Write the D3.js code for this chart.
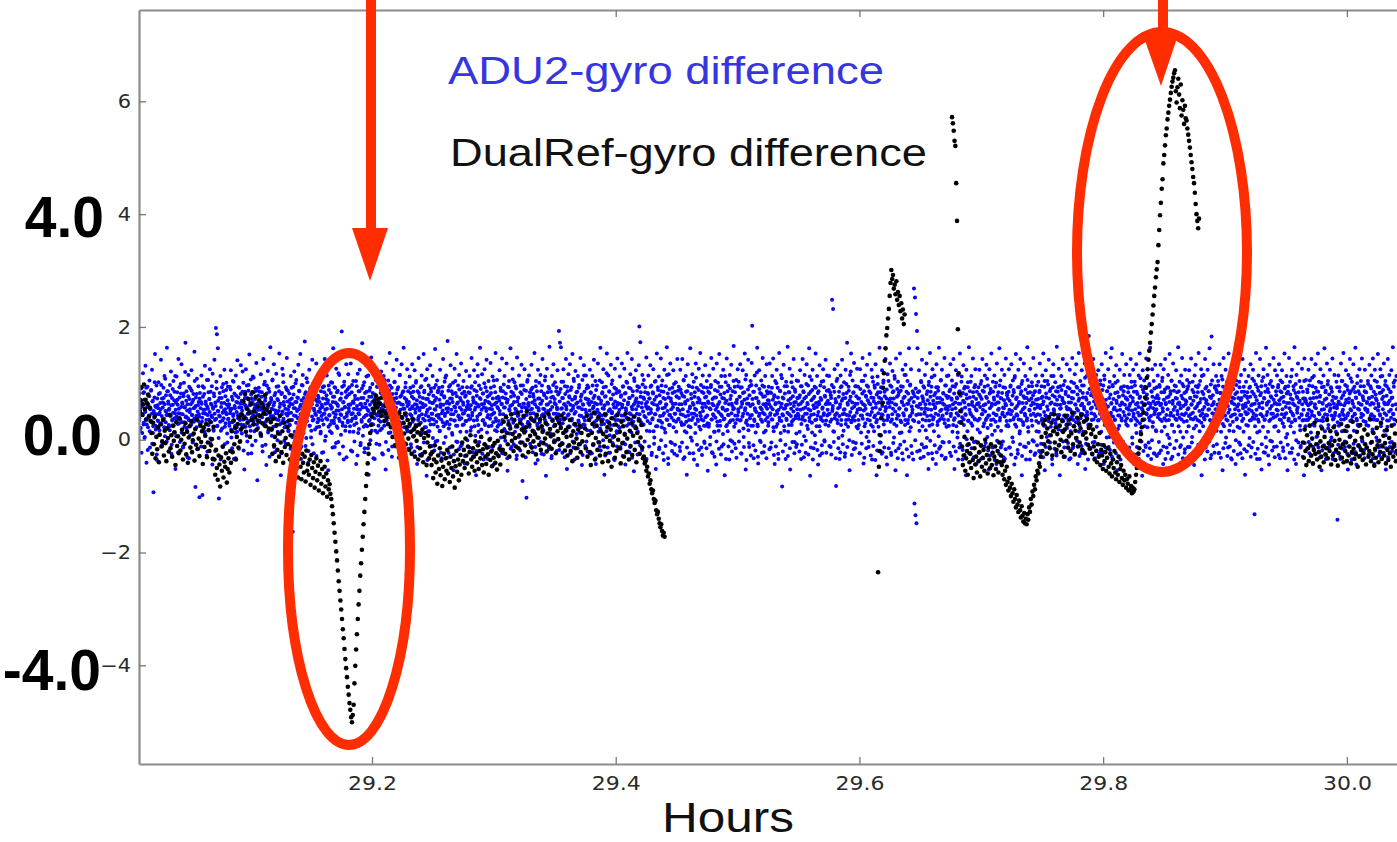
<!DOCTYPE html>
<html><head><meta charset="utf-8">
<script src="https://cdn.jsdelivr.net/npm/d3@7"></script>
<style>body{margin:0;background:#fff}svg{display:block}</style>
</head><body>
<svg id="c" width="1397" height="842"></svg>
<script>
// ---------- data ----------
const xTicks = [29.2, 29.4, 29.6, 29.8, 30.0];
const yTicks = [-4, -2, 0, 2, 4, 6];
const xDomain = [29.0088, 30.06];
const yDomain = [-5.75, 7.62];
const seriesNames = ["ADU2-gyro difference", "DualRef-gyro difference"];
const bigLabels = ["4.0", "0.0", "-4.0"];
const axisTitle = "Hours";

// ADU2-gyro difference: two interleaved evenly sampled runs from blueStart to blueEnd (values in 1/100)
const blueStart = 29.0088, blueEnd = 30.041;
const blueHundredthsA = [
34,72,15,57,91,-23,46,63,118,27,84,3,52,131,36,-41,65,94,22,78,43,105,-14,56,87,31,124,68,12,-93,47,75,152,25,58,96,-36,61,33,102,45,17,83,54,142,28,73,-8,66,92,37,113,6,51,79,44,163,21,86,64,
53,24,97,42,121,-25,74,36,62,104,13,85,47,-52,66,112,35,71,28,143,55,93,-4,46,82,134,31,64,-12,77,101,23,58,172,41,86,16,63,38,115,-33,72,54,91,26,123,44,67,9,81,32,156,57,-84,75,22,108,43,61,95,
45,-102,83,24,67,114,32,-98,76,53,92,14,131,46,63,27,106,-21,55,84,36,72,125,2,64,43,95,-44,57,18,82,142,35,66,198,103,187,25,162,51,-104,74,41,113,16,65,93,34,-13,86,52,124,23,77,48,101,62,-5,94,37,
63,25,94,52,123,4,76,31,104,45,-34,82,56,13,114,67,22,141,43,75,-16,92,35,64,132,57,11,85,42,101,26,-53,74,61,125,37,96,-3,54,87,46,151,24,66,107,-24,73,48,112,33,84,15,62,91,55,136,27,-72,44,78,
92,34,65,12,116,53,84,-11,46,143,62,25,103,74,32,-45,96,57,122,16,63,85,38,164,42,71,7,105,54,23,134,66,-22,83,47,117,36,72,14,95,51,153,27,64,-63,81,45,126,33,102,67,-2,76,55,93,24,145,43,87,15,
47,82,26,64,113,35,73,5,-163,94,56,121,14,67,42,106,-32,75,38,133,54,86,23,152,62,-12,97,45,115,27,74,53,174,36,84,3,65,102,43,-41,76,124,25,57,93,16,63,142,34,85,-24,52,104,46,71,135,22,68,95,37,
74,23,105,56,14,123,62,35,93,-22,46,84,143,53,6,72,114,36,65,-54,96,43,132,27,83,55,12,101,67,162,34,76,-13,92,45,126,24,63,87,-4,52,115,33,154,73,44,192,94,25,66,-35,103,57,16,85,134,42,78,31,116,
56,93,14,62,135,33,84,-21,47,104,65,26,153,72,38,-43,95,54,117,12,86,45,124,63,-6,74,32,171,57,96,23,102,-15,64,43,132,85,24,53,114,-62,76,35,92,44,146,16,67,83,27,125,52,-34,73,106,45,64,13,94,58,
35,102,64,17,83,121,46,-24,75,53,113,25,94,62,-53,136,34,72,43,105,12,87,154,56,23,66,92,-12,45,124,73,36,103,54,4,82,142,65,26,93,-32,47,115,76,13,63,134,38,84,55,163,22,74,-45,101,42,67,125,15,86,
63,24,112,45,83,-14,56,134,32,95,73,7,123,54,26,104,62,-43,86,35,145,42,76,13,93,57,114,-25,64,37,152,84,22,106,44,72,-64,125,53,15,96,34,67,132,27,85,46,-11,113,65,36,92,54,161,-3,74,43,105,23,87,
44,92,15,124,63,36,-33,85,52,143,24,77,103,46,5,114,65,32,175,56,-23,94,27,73,132,45,86,12,67,101,-54,34,126,57,83,25,152,64,-4,96,43,115,36,74,-12,135,53,82,26,66,104,47,-42,76,33,122,14,93,55,62,
84,36,113,54,16,92,145,43,-22,75,66,123,24,102,57,-63,86,35,134,62,14,96,45,163,72,5,53,116,34,82,-35,64,125,26,93,56,142,13,76,44,104,-13,65,37,136,83,25,54,112,46,-44,95,63,17,154,33,74,106,23,56,
26,74,123,45,92,4,63,144,35,86,-24,57,113,16,73,42,135,66,-55,94,33,104,52,25,162,76,-13,45,126,83,34,67,102,14,95,53,-34,146,23,75,44,114,62,-5,84,36,133,57,-73,96,22,64,125,43,15,87,-103,54,106,32,
65,114,23,84,46,-12,133,55,92,14,76,35,154,63,-42,104,43,86,25,124,56,3,73,37,115,64,-25,96,143,45,16,82,54,105,32,-64,74,126,27,63,94,44,165,12,53,85,-33,113,36,76,134,24,65,102,-2,46,93,57,123,34,
45,193,84,172,26,164,103,56,-23,74,125,36,63,95,14,143,54,-52,86,43,116,24,75,134,62,6,93,37,152,55,-14,104,46,73,122,25,84,-32,66,113,34,92,57,13,145,76,42,-45,106,63,27,132,85,34,53,114,-3,72,96,44,
93,35,62,124,16,83,45,-24,113,56,74,142,23,65,104,-43,34,96,53,135,14,73,46,-12,163,64,27,102,84,36,125,55,-62,76,43,94,15,153,66,32,114,-23,85,54,26,133,72,47,105,4,63,-34,92,126,35,57,83,12,144,65,
24,85,53,112,-13,76,34,135,62,94,-5,43,126,82,-44,56,103,25,154,63,36,92,-22,74,116,45,13,143,54,86,32,-56,104,65,24,123,73,46,95,14,66,132,201,35,173,84,-12,57,115,26,75,106,42,-35,93,64,146,16,55,83,
114,46,73,15,132,54,96,-23,36,84,125,63,4,103,45,-52,76,153,24,93,56,112,-14,65,33,144,86,22,105,43,74,-36,124,57,13,95,62,164,35,82,-43,116,44,26,135,73,54,-6,92,64,123,34,-25,85,46,102,14,76,143,53,
36,94,63,-13,124,45,83,26,143,54,-34,105,76,15,64,113,32,-62,86,134,43,24,95,56,162,4,73,35,116,65,-24,103,46,84,12,135,53,92,-45,36,74,126,23,66,154,42,-14,85,57,114,34,93,-3,64,132,25,76,104,43,-55,
85,23,114,56,5,93,145,36,64,-24,126,43,75,14,104,53,-44,135,32,86,63,16,152,94,25,45,113,-12,74,55,124,36,83,-63,65,102,24,144,53,15,96,44,-35,115,72,34,133,64,-3,86,54,166,23,94,43,-15,106,65,36,125,
54,103,15,76,134,35,-24,93,64,123,46,5,84,153,56,-53,115,34,73,26,142,64,-13,95,43,104,25,136,202,63,85,-33,36,114,52,13,96,74,163,24,-42,65,123,46,83,-4,105,54,32,145,76,-22,94,45,113,16,64,134,55,82,
25,94,63,135,44,-14,83,36,113,54,144,15,76,-43,104,65,23,124,46,92,-25,53,154,34,86,12,115,64,-83,75,43,133,24,95,56,-34,103,35,62,165,14,84,45,126,-53,73,55,26,114,93,35,143,66,-4,85,42,-13,105,54,74,
104,43,75,14,123,64,-34,95,36,143,55,84,6,115,46,-23,76,134,25,63,96,54,162,33,-64,85,44,106,13,124,73,-15,56,94,35,153,65,24,113,43,-44,86,63,132,15,74,36,103,-24,57,125,44,93,-3,76,142,34,65,114,53,
64,25,113,46,84,-13,74,36,248,55,232,93,14,125,44,66,-82,104,35,133,56,3,85,-34,63,114,26,95,142,45,73,16,102,54,-24,124,35,83,172,65,23,94,43,-54,115,76,153,34,56,105,-4,84,136,42,-15,64,95,23,126,53,
94,35,73,-24,125,54,13,104,43,145,63,-42,86,24,114,55,76,5,133,36,94,-13,65,152,44,83,26,124,-35,56,103,74,15,96,43,134,64,-63,35,112,84,23,75,163,54,-5,93,45,123,-22,66,105,34,85,14,143,56,73,-44,116,
43,104,65,14,135,73,-23,94,36,122,55,86,4,113,63,-54,144,25,76,44,103,-15,84,56,153,34,95,13,66,124,-35,74,43,115,26,133,54,85,-63,104,35,64,162,15,96,43,125,74,-24,53,35,82,268,-113,252,-134,223,-148,193,162,
84,45,123,16,64,-33,104,55,142,24,73,95,-14,46,115,63,34,135,3,86,54,-52,103,25,154,76,43,94,-24,125,36,63,15,114,56,83,-43,134,65,26,93,44,163,35,74,-12,106,53,124,-4,64,82,36,145,-34,55,96,23,113,74,
53,114,25,86,-23,134,46,73,105,14,63,143,35,-52,94,56,123,24,75,4,115,43,84,-14,153,64,32,103,54,-35,83,132,26,66,94,45,-63,124,73,15,102,34,164,53,86,-24,45,113,62,25,144,76,-4,93,36,125,54,-43,85,64,
34,93,65,124,13,76,-34,104,45,143,53,24,85,-12,114,63,35,133,74,5,96,43,-53,125,56,84,26,153,64,-23,103,36,75,114,16,94,44,-43,135,66,23,84,55,162,34,105,-14,73,124,45,-3,93,56,115,-34,64,144,25,83,46,
73,24,125,53,-14,94,45,134,63,4,105,36,84,-44,113,56,152,23,75,43,-25,124,64,93,15,143,35,86,-63,104,54,26,135,74,46,113,-13,65,34,164,83,14,95,53,-35,126,44,73,102,25,66,145,-3,84,55,-24,114,33,96,62,
45,103,14,84,135,56,-23,74,34,114,63,153,25,94,-54,43,123,75,5,104,53,36,142,-13,86,64,23,113,45,-44,93,134,54,15,76,102,35,-24,165,62,85,24,126,44,-63,95,56,113,16,74,143,33,65,-14,104,43,85,26,134,54,
93,34,66,-35,124,53,15,103,74,145,43,-13,85,24,116,63,3,134,55,92,-43,36,154,73,25,104,46,-24,123,64,83,14,96,54,135,-52,75,34,113,44,163,26,184,65,-14,102,55,126,35,84,-5,143,76,45,-33,94,62,115,23,56,
64,123,35,84,-24,105,53,14,134,73,45,96,-43,114,26,63,154,55,4,86,33,125,-13,74,103,45,146,64,162,23,95,-35,54,113,36,83,15,132,65,-54,104,43,76,25,124,53,-15,93,34,152,64,-4,86,115,43,-23,75,134,56,94,
25,84,53,-14,115,64,143,35,93,4,74,124,46,-43,103,54,26,134,85,33,65,-24,114,43,153,76,14,95,56,-64,123,36,84,105,24,63,-13,144,45,73,113,54,-5,96,34,163,64,-34,85,125,23,56,104,45,-25,133,74,15,93,65,
114,45,73,-24,94,36,133,64,15,104,56,-43,125,84,23,143,65,34,-14,93,54,115,76,3,152,43,86,-34,105,26,64,135,53,14,96,-53,74,123,35,84,45,164,24,66,103,-13,56,114,36,145,73,4,95,44,-23,124,63,85,14,106,
54,95,24,123,-13,74,45,144,63,5,103,36,84,-45,114,56,133,25,76,-24,93,64,154,33,15,104,43,125,-63,85,53,24,115,73,36,143,-14,65,94,43,124,-4,86,54,162,35,-33,74,183,105,24,63,134,46,-23,95,54,113,16,84,
35,104,63,-23,134,45,83,14,113,56,-54,94,145,24,75,43,124,4,66,103,34,-14,153,85,53,26,96,-33,123,65,44,114,15,73,135,54,-43,105,36,84,23,164,63,-5,93,44,-24,115,74,33,143,56,14,85,124,-62,64,103,45,76,
74,25,113,54,3,94,134,35,-14,85,63,124,46,104,-132,24,76,154,53,-34,93,36,114,64,15,143,45,83,-53,104,56,23,125,74,35,-23,96,163,44,65,115,14,84,-44,133,55,36,104,75,-3,94,46,145,-13,64,123,24,86,53,114,
44,93,15,134,63,-33,105,35,84,123,54,-14,76,23,153,45,94,4,113,65,-54,85,34,145,56,103,24,73,-23,124,46,64,95,13,164,36,83,-43,115,53,74,135,-5,66,104,25,-14,93,45,126,34,85,53,-63,144,73,24,106,65,43,
84,35,124,53,-24,105,64,13,143,44,95,-43,74,113,25,63,134,56,5,86,34,153,-14,103,45,76,125,24,-54,93,65,33,114,54,162,15,84,-34,73,135,44,104,26,63,-13,124,55,93,4,85,144,36,-24,64,115,43,74,14,103,56,
-142,63,114,25,93,44,-34,135,74,15,104,53,154,36,84,-13,65,123,24,95,43,-53,115,73,5,143,54,86,35,103,-24,64,134,16,94,45,163,75,-44,34,113,55,86,24,125,-14,63,104,46,144,-3,74,33,95,-33,124,53,84,26,65,
53,104,25,74,133,-24,95,43,114,65,14,144,36,85,-43,124,56,73,4,103,35,152,64,-14,93,45,125,24,84,-33,113,54,76,135,16,63,104,-53,44,95,23,143,66,34,115,-13,84,53,123,-4,75,164,45,94,36,105,-23,63,113,54
];
const blueHundredthsB = [
38,52,47,21,66,59,12,44,83,30,71,5,49,36,92,27,58,-18,63,41,77,15,54,33,88,46,-7,69,24,51,39,102,60,18,45,-26,73,34,56,81,9,48,65,29,97,42,-11,57,37,74,22,63,108,31,50,-3,86,44,68,26,
55,17,79,43,61,-9,34,90,48,25,70,38,113,53,6,41,84,62,-22,47,29,75,36,99,58,13,66,45,-14,82,31,57,120,40,69,21,52,-31,77,35,94,49,8,63,28,87,44,-5,71,56,37,104,19,60,42,81,-17,50,33,67,
41,73,28,56,-12,64,39,95,47,22,81,53,10,68,35,-28,59,44,106,26,72,49,-6,85,31,62,40,117,55,16,77,46,-20,60,37,91,24,51,69,3,43,83,32,-35,58,74,20,48,99,38,65,-8,54,29,88,45,11,70,36,57,
62,30,47,89,18,55,-15,71,42,103,34,60,25,-33,78,49,14,66,38,93,57,-4,45,81,27,69,52,121,36,-19,63,41,85,23,58,7,74,46,-25,97,33,61,50,16,80,39,-10,67,44,110,28,56,72,-2,48,87,35,64,21,53,
44,85,31,58,6,76,40,-21,63,51,98,27,69,-9,45,82,36,57,13,91,48,-30,66,33,74,55,19,107,42,61,-13,79,38,52,24,94,47,-1,70,35,86,58,10,64,29,-24,83,50,115,37,61,22,75,-7,46,89,32,68,53,17,
59,26,71,-16,48,92,35,63,8,80,43,-27,56,100,30,67,51,-5,74,39,87,22,59,45,-34,70,28,96,54,12,65,37,81,-11,49,109,33,62,46,-20,77,25,90,57,4,68,41,-8,84,36,55,72,18,98,44,-29,61,31,78,50,
35,67,49,11,86,42,-23,58,73,27,95,46,-2,64,38,79,55,-37,70,23,88,44,15,61,102,33,57,-14,76,48,29,93,40,66,-6,52,84,21,60,118,37,-25,71,45,9,82,54,30,-12,67,96,39,58,24,75,-31,47,89,34,62,
50,81,24,63,-19,45,97,37,68,14,55,-3,78,41,104,29,60,-28,72,47,19,86,53,-10,64,35,91,58,7,74,40,-22,83,26,57,112,44,69,-15,51,33,87,62,-1,46,76,28,99,55,-33,67,38,80,16,59,-7,94,43,71,25,
46,-9,73,32,88,55,20,61,-26,77,42,106,34,65,-4,52,84,27,58,-18,70,45,96,13,63,38,-30,81,49,25,68,102,36,-12,57,74,21,89,44,-1,66,31,115,53,8,79,40,-24,62,86,29,55,-6,93,47,71,18,60,35,-16,
67,28,54,92,-8,43,76,59,17,85,36,-21,63,48,101,24,70,-13,57,39,83,52,-27,66,30,95,45,12,74,58,-5,87,34,61,22,108,49,-36,72,41,80,15,56,-11,91,37,65,46,3,78,27,-19,69,53,97,32,60,-2,84,44,
39,71,16,58,-23,80,47,94,31,62,-6,75,42,110,28,55,-32,68,49,87,20,64,-14,97,36,53,73,9,81,45,-26,59,34,104,50,-3,77,25,66,41,-17,89,57,14,70,38,-9,93,46,62,27,85,-29,52,79,33,58,-1,68,43,
56,-14,83,37,61,22,95,48,-30,70,34,88,53,7,65,-20,78,41,113,26,59,-4,74,46,90,18,63,-25,82,35,57,100,29,69,-10,51,86,40,-34,67,24,79,55,2,92,44,61,-18,73,31,105,48,-7,84,38,66,15,58,-27,76,
33,69,51,-11,87,28,64,-24,75,45,98,19,57,-2,82,40,66,-33,71,26,93,54,11,60,-16,85,37,62,107,30,-8,78,47,55,23,91,-28,68,42,74,5,61,36,-19,96,50,81,27,-5,64,39,88,16,57,-31,72,44,103,29,63,
60,24,77,-7,53,89,35,66,-22,81,47,14,70,-13,95,39,58,28,-36,73,52,101,31,64,-4,86,43,69,18,55,-26,79,36,112,48,-9,62,27,84,51,-17,91,40,67,8,75,-29,58,33,97,46,-1,72,25,63,86,-20,54,41,80,
42,-18,68,36,90,55,-6,74,29,103,47,63,-31,81,38,59,16,94,-12,66,45,77,23,-24,88,52,34,71,-3,60,108,27,-35,76,49,64,10,85,-15,57,31,97,43,-8,69,22,80,54,-27,62,39,114,26,-11,73,48,91,17,-21,65,
71,35,52,-25,84,40,67,13,96,-10,59,31,78,46,-33,88,24,63,50,-4,75,37,105,20,-19,69,43,82,56,-1,93,28,61,-28,77,45,118,33,-14,64,51,86,8,-23,72,38,99,49,-6,80,26,57,-36,68,42,90,15,-12,62,35,
48,86,21,64,-16,79,43,57,-29,95,34,70,11,-8,83,52,39,101,-21,66,28,74,47,-13,91,36,58,-32,78,25,62,109,41,-5,69,54,20,87,-26,60,37,93,45,-10,76,31,65,-18,98,50,27,72,-3,84,40,59,-34,67,33,81,
57,-12,73,29,94,48,-27,65,38,82,15,-7,71,45,104,24,-30,61,53,88,34,-17,79,42,67,-1,96,30,56,-24,85,47,19,72,-11,63,36,115,51,-33,75,26,90,44,-4,68,39,-20,83,58,22,99,46,-9,64,32,77,-28,55,87,
37,74,52,-20,89,31,63,-5,78,44,106,27,-31,67,41,85,13,-14,70,50,96,35,-24,59,22,81,46,-2,93,39,62,-35,76,55,28,110,43,-9,66,33,88,-18,71,48,18,97,36,-27,64,51,83,25,-6,75,40,58,-15,92,29,68,
65,28,83,-9,54,97,36,-22,72,45,61,14,-30,88,39,75,-3,58,25,101,49,-16,67,33,80,-26,94,42,57,10,-8,73,37,113,52,-34,69,26,86,44,-12,63,31,91,-1,78,47,-21,60,35,104,56,-7,84,29,66,-32,71,43,95,
49,-3,76,34,92,58,-25,67,41,83,20,-13,71,52,107,30,-36,64,46,89,17,-6,79,38,60,-28,97,44,72,25,-10,85,33,56,-19,74,49,119,27,-30,68,42,90,-2,57,36,81,-23,96,48,63,13,-11,77,35,59,-33,86,40,70,
31,69,-17,84,47,58,-5,92,36,71,22,-27,79,44,63,-12,100,51,28,75,-34,66,39,87,-1,58,33,109,45,-21,73,55,16,82,-9,61,37,95,48,-29,70,26,84,-15,64,42,102,32,-4,77,50,60,-24,89,38,67,11,-8,74,46,
62,37,-21,79,53,95,28,-9,68,41,86,-31,73,34,57,-2,99,46,65,19,-26,81,39,112,52,-14,70,30,88,-35,61,45,76,8,-6,92,36,58,-18,83,49,67,24,-28,96,40,71,-10,55,33,104,47,-1,78,27,63,-23,87,43,69,
45,88,-11,64,32,79,-26,97,51,60,15,-4,85,38,72,-33,67,47,108,29,-15,76,42,58,-22,93,35,69,7,-8,81,53,46,-30,74,28,99,44,-13,62,36,87,-1,70,49,121,31,-27,66,40,83,-17,59,34,95,-6,77,48,64,20,
73,26,55,-24,90,43,67,-7,82,37,104,52,-32,61,29,78,-15,96,45,70,14,-3,86,34,63,-28,75,49,111,23,-11,68,40,92,-36,57,31,80,-19,99,47,66,9,-5,84,38,72,-25,60,44,101,27,-14,77,51,58,-31,89,35,65,
40,-15,71,58,96,32,-27,66,45,84,-6,73,28,108,50,-20,62,37,90,-33,79,43,55,12,-9,87,31,68,-24,94,47,61,-3,76,35,115,53,-17,64,29,82,-30,70,41,98,22,-11,59,48,86,-35,67,33,77,-1,91,44,60,-21,74,
58,31,86,-19,63,45,102,-8,77,36,68,-30,92,49,56,17,-13,81,42,70,-25,97,34,64,-2,85,53,111,27,-34,69,40,79,-10,58,46,93,-22,74,32,87,6,-16,66,51,105,38,-28,71,43,83,-5,62,29,96,-32,78,47,59,24,
35,76,-4,60,89,42,-29,71,54,95,26,-12,82,38,66,-21,99,47,73,13,-35,64,31,86,-7,78,50,112,40,-18,69,36,91,-27,57,44,80,1,-10,93,33,62,-24,75,48,103,29,-15,67,41,84,-31,59,37,97,-3,72,52,63,18,
64,-23,80,37,58,99,-11,72,45,87,-33,61,29,94,50,-6,76,38,108,21,-19,67,43,82,-28,90,35,60,9,-14,85,47,71,-36,63,32,101,44,-2,78,53,66,-25,96,39,74,16,-9,83,48,57,-31,70,41,92,-17,61,33,79,26,
47,85,-14,69,34,96,-26,63,51,78,-4,88,40,110,27,-32,72,45,60,-18,93,36,67,11,-8,81,49,99,-29,65,31,77,-12,57,43,89,-35,74,38,106,22,-6,70,52,84,-21,61,34,95,-1,79,46,64,-27,86,42,71,15,-10,58,
72,30,-20,87,44,61,-7,95,37,76,-31,68,49,104,25,-13,82,41,59,-24,98,33,73,8,-5,90,46,66,-34,79,35,113,51,-16,63,29,86,-28,71,44,93,18,-9,77,55,62,-22,88,36,70,-3,97,43,65,-30,81,39,58,21,
43,-6,77,55,91,28,-33,66,40,85,-15,73,35,100,48,-25,62,31,94,-2,80,52,69,14,-29,87,38,61,-11,96,45,75,-20,58,33,110,42,-7,71,49,83,-35,64,27,90,23,-16,79,47,57,-26,99,36,68,-4,84,41,63,-19,74,
60,34,82,-27,67,46,98,-9,75,39,88,-22,63,51,107,30,-14,71,44,86,-32,59,36,93,5,-18,80,48,65,-30,97,41,72,-5,57,35,101,-24,69,52,84,19,-12,76,43,61,-35,90,38,66,-8,79,49,95,-21,62,33,73,27,
38,71,-18,92,45,60,-31,77,34,103,52,-7,68,41,85,-26,96,37,63,12,-13,81,48,58,-34,74,29,109,44,-3,66,53,89,-20,61,36,94,-10,72,47,80,22,-28,65,39,99,-15,58,42,86,-1,76,31,68,-24,91,50,63,17,
54,-29,79,40,66,-4,97,46,61,-19,84,33,110,50,-12,71,38,89,-34,63,44,75,9,-23,92,35,67,-8,81,48,104,26,-30,69,42,87,-15,58,37,95,-2,73,51,64,-26,86,39,62,14,-10,78,45,99,-33,60,32,83,-17,70,47,
68,33,90,-13,56,42,101,-28,74,37,62,-5,88,48,69,20,-31,77,40,95,-18,59,35,84,-9,97,51,66,-24,72,30,113,46,-14,81,39,58,-35,91,44,70,7,-21,63,53,86,-3,76,34,98,-27,61,47,79,-11,67,41,92,24,
46,88,-8,62,35,96,-24,71,50,83,-32,65,39,107,28,-15,79,43,57,-6,93,36,72,-29,60,48,100,16,-12,86,41,68,-35,75,32,90,-20,63,45,81,-1,97,38,59,-26,74,52,103,21,-9,70,44,85,-33,61,37,94,-17,78,49,
59,26,-21,84,47,67,-10,92,34,76,-30,61,51,108,40,-4,81,37,64,-25,98,43,70,13,-16,87,32,58,-34,79,45,95,-8,66,41,111,-22,73,36,85,4,-13,62,49,90,-28,68,33,99,-2,77,46,60,-19,94,39,71,23,-31,65,
41,79,-12,63,52,97,-27,70,36,86,-5,74,45,102,29,-20,67,40,91,-33,58,47,82,10,-9,95,37,65,-23,80,50,112,31,-15,71,43,88,-35,61,34,99,-1,76,48,57,-26,84,39,69,17,-11,93,44,63,-30,73,35,104,-6,68,
70,35,-17,89,46,61,-4,96,39,73,-29,66,50,110,27,-13,83,42,58,-24,92,36,75,6,-8,85,48,67,-32,78,34,101,53,-19,64,40,94,-10,71,45,87,-27,60,37,98,20,-14,80,51,62,-2,91,43,69,-34,76,38,57,25,
48,-21,75,59,93,31,-9,68,42,86,-30,63,36,104,49,-16,79,44,61,-3,97,38,71,15,-25,88,47,66,-12,82,33,109,52,-35,69,41,90,-7,58,46,84,-22,74,37,100,26,-11,65,53,81,-28,95,40,62,-1,77,44,70,-18,86,
56,32,84,-14,67,49,99,-26,73,38,62,-6,91,45,76,18,-33,64,41,105,-19,80,35,70,-2,94,52,59,-28,83,43,112,29,-10,72,37,88,-23,66,47,97,8,-15,78,34,63,-31,90,50,69,-5,85,39,74,-20,61,46,101,27,-12
];

// DualRef-gyro difference: evenly sampled segments (values in 1/100)
const blackStep = 0.00068;
const blackSegStarts = [29.0088, 29.3748, 29.6153, 29.676, 29.964];
const blackSegA = [
82,51,70,93,44,63,98,55,71,36,64,80,41,57,33,
12,-25,30,-8,41,-33,5,-17,22,-40,9,27,-12,-3,35,-28,16,-6,-38,20,3,-21,44,-15,8,-30,25,-2,13,-45,31,-11,6,-24,38,-19,0,18,-35,10,-7,29,-26,14,-41,4,24,-14,33,-22,-1,11,-37,19,-9,36,-16,2,-29,26,-4,15,-43,21,-13,7,28,-31,-5,17,-20,32,-10,1,-34,23,
-35,-62,-18,-50,-71,-28,-44,-83,-31,-55,-12,-67,-39,-48,-24,-76,-52,-33,-58,-20,-41,
15,-22,34,-8,21,-35,5,28,-14,40,-3,18,
45,22,68,38,81,14,55,30,72,48,5,63,35,84,27,51,40,76,18,59,33,70,42,9,65,29,57,46,79,24,53,36,62,20,49,31,
18,-25,37,-10,5,-38,26,-18,11,-30,42,-5,-22,15,-41,30,-13,3,-27,22,-8,34,-35,8,
-12,-45,-28,-60,-5,-38,-52,-20,-67,-33,-15,-48,-70,-25,-41,-58,-30,-74,-19,-55,-44,-62,-35,-80,-27,-50,-68,-40,-85,-57,-33,-72,-46,-90,-61,-38,-78,-52,-95,-66,-48,-83,-60,-101,-72,-88,-79,-96,
-105,-118,-132,-148,-165,-181,-198,-214,-232,-251,-268,-285,-301,-318,-336,-352,-371,-389,-405,-421,-438,-452,-467,-479,-492,
-501,-488,-470,
-432,-401,-372,-345,-318,-292,-268,-241,-219,-195,-172,-150,-128,-105,-82,-61,-42,
-25,-8,12,26,41,55,48,69,62,78,57,73,66,50,
64,42,75,51,83,33,60,47,39,66,28,54,41,22,
38,5,52,21,-10,44,16,33,-5,48,25,8,40,-12,30,11,46,-8,22,35,2,-18,28,14,-25,37,6,19,-30,24,-2,13,-35,27,-15,9,-28,18,-40,3,-22,12,-45,-5,7,-33,-12,-26,
-45,-22,-68,-35,-10,-58,-40,-78,-28,-52,-15,-63,-37,-82,-48,-25,-70,-33,-55,-18,-60,-42,-75,-30,-50,-12,-65,-38,-85,-47,-20,-57,-35,-72,-44,-27,-62,
-5,-38,-18,-50,2,-28,-42,-12,-60,-22,8,-35,-48,-15,-30,-55,-3,-25,-40,-10,-52,-20,-33,5,-45,-17,-58,-8,-30,-43,-14,-26,-62,0,-36,-21,-47,-11,-32,-6,-41,-24,-53,-2,-29,-16,-44,-19,
15,-18,32,5,-25,40,12,-8,28,-30,20,45,-2,10,-20,35,3,-12,25,48,-15,8,30,-5,18,-28,42,13,-10,22,50,0,-22,27,7,38,-14,16,-3,33,10,-26,44,4,20,-9,36,-18,24,14,-6,41,2,29,-21,11,46,-12,19,6,-16,34,9,-4,26,-24,39,15,1,30,-10,21,43,-7,12,37,-19,17,
5,-28,22,-10,35,-20,8,-38,15,-5,28,-15,2,-32,18,-8,25,-22,12,-3
];
const blackSegB = [
20,-15,42,-30,8,35,-22,-45,12,28,-8,48,-35,3,25,-18,40,-5,-28,15,33,-40,10,-12,45,-25,5,22,-38,30,-2,18,-48,38,-10,6,-32,27,-20,44,0,-15,14,-42,32,-6,24,-30,9,46,-22,2,37,-35,16,-11,29,-27,7,41,-18,21,-40,12,-4,34,-25,4,26,-14,-33,
-30,-42,-38,-55,-48,-65,-60,-78,-72,-88,-95,-90,-105,-112,-108,-125,-132,-128,-140,-148,-155,-150,-162,-170,-165,-172
];
const blackSegC = [
-235,-48,-20,8,38,65,92,118,140,162,185,198,215,232,255,278,301,285,292,268,275,258,281,248,262,239,255,228,242,215,231,205,222
];
const blackSegD = [
572,561,548,530,521,455,388,196,
118,82,51,30,
-12,-45,-28,5,-55,-33,-20,-62,-8,-40,-25,-50,2,-36,-68,-15,-44,-30,-58,-5,-38,-22,-65,-10,-48,-32,-18,-55,0,-42,-27,-60,-14,-35,-50,-8,-45,-23,-63,-30,-12,-52,-38,-20,-58,-5,-40,-28,
-45,-62,-38,-70,-55,-80,-48,-75,-90,-68,-85,-100,-78,-95,-110,-88,-105,-120,-98,-115,-128,-108,-125,-138,-118,-135,-145,-130,-148,-140,
-150,-132,-142,-120,-128,-105,-115,-92,-100,-80,-88,-65,-72,-55,-60,-42,-48,-30,
5,-20,28,-8,35,12,-25,20,-3,40,-15,8,30,-28,15,45,-5,22,-18,10,38,-10,25,0,-22,33,14,-30,18,42,-2,27,-14,6,36,-20,11,48,-8,24,-26,16,3,39,-12,29,-5,20,44,-18,9,32,-24,13,2,37,-9,21,-16,26,
10,-25,18,-12,-35,5,-20,-40,-8,-30,12,-45,-18,-28,-52,-10,-38,-22,-55,-32,-15,-48,-60,-25,-42,-65,-35,-50,-20,-58,-70,-40,-62,-30,-75,-52,-45,-68,-80,-55,-72,-62,-85,-70,-78,-90,-65,-88,-82,-95,-85,-92,
-88,-75,-62,-50,-40,-25,-15,-2,10,22,35,48,62,75,92,
110,125,142,158,172,190,205,222,238,255,270,288,302,315,
345,372,398,420,445,462,
490,505,522,540,552,568,580,592,603,615,626,635,642,650,655,
618,598,625,
640,612,588,630,575,602,585,560,592,570,
566,552,541,530,518,505,492,480,466,455,438,418,400,388,375,392
];
const blackSegE = [
-5,-32,18,-20,-45,8,-15,-38,25,-10,-28,2,-42,-18,30,-25,-8,-35,12,-22,-48,-3,-30,20,-12,-40,5,-26,-15,35,-33,-6,-20,15,-44,-10,-28,22,-2,-36,-18,10,-46,-24,0,-14,28,-32,-8,-40,16,-20,-5,-38,24,-28,-12,6,-42,-22,32,-16,-34,-2,-26,14,-48,-10,-30,26,-18,4,-36,-24,18,-8,-44,-14,9,-30,-20,36,-38,-4,-26,12,-46,-16,-32,21,-10,-40,-2,-22,30,-34,-12,7,-28,-6,-42,17,-18,-36,3,-24,-48,25,-14,-30,-8,11,-38,-20,33,-26,-4,-44,15,-16
];

// ---------- layout ----------
const plot = {left: 139, top: 10, right: 1420, bottom: 764};
const RED = "#ff2d00";

const svg = d3.select("#c");
const x = d3.scaleLinear().domain(xDomain).range([plot.left, plot.right]);
const y = d3.scaleLinear().domain(yDomain).range([plot.bottom, plot.top]);

svg.append("defs").append("clipPath").attr("id", "clip")
  .append("rect").attr("x", plot.left).attr("y", plot.top)
  .attr("width", plot.right - plot.left).attr("height", plot.bottom - plot.top);

const blueStepT = (blueEnd - blueStart) / (blueHundredthsA.length - 1);
const blue = [];
blueHundredthsA.forEach((v, i) => blue.push({t: blueStart + i * blueStepT, v: v / 100}));
blueHundredthsB.forEach((v, i) => blue.push({t: blueStart + (i + 0.5) * blueStepT, v: v / 100}));
const blackSegs = [blackSegA, blackSegB, blackSegC, blackSegD, blackSegE];
const black = [];
blackSegs.forEach((seg, k) => seg.forEach((v, i) => black.push({t: blackSegStarts[k] + i * blackStep, v: v / 100})));

const g = svg.append("g").attr("clip-path", "url(#clip)");
g.append("g").selectAll("circle").data(blue).join("circle")
  .attr("cx", d => x(d.t)).attr("cy", d => y(d.v)).attr("r", 2.0).attr("fill", "#0808f4");
g.append("g").selectAll("circle").data(black).join("circle")
  .attr("cx", d => x(d.t)).attr("cy", d => y(d.v)).attr("r", 2.3).attr("fill", "#000");

// axes
function styleAxis(sel) {
  sel.select(".domain").attr("stroke", "#8c8c8c").attr("stroke-width", 2.2);
  sel.selectAll(".tick line").attr("stroke", "#777").attr("stroke-width", 1.3);
  sel.selectAll(".tick text").attr("fill", "#2a2a2a").attr("font-family", "DejaVu Sans");
}
const xAxis = svg.append("g").attr("transform", `translate(0,${plot.bottom})`)
  .call(d3.axisBottom(x).tickValues(xTicks).tickFormat(d3.format(".1f")).tickSize(-7).tickSizeOuter(0).tickPadding(12));
styleAxis(xAxis);
xAxis.selectAll(".tick text").attr("font-size", 20);
const xTop = svg.append("g").attr("transform", `translate(0,${plot.top})`)
  .call(d3.axisTop(x).tickValues(xTicks).tickFormat("").tickSize(-7).tickSizeOuter(0));
styleAxis(xTop);
const yAxis = svg.append("g").attr("transform", `translate(${plot.left},0)`)
  .call(d3.axisLeft(y).tickValues(yTicks).tickFormat(d3.format("d")).tickSize(-7).tickSizeOuter(0).tickPadding(8));
styleAxis(yAxis);
yAxis.selectAll(".tick text").attr("font-size", 19);
svg.selectAll(".tick text").each(function () {
  const len = this.getComputedTextLength();
  if (len > 0) d3.select(this).attr("textLength", len * 1.1).attr("lengthAdjust", "spacingAndGlyphs");
});

// axis title
svg.append("text").attr("x", 728).attr("y", 832).attr("text-anchor", "middle")
  .attr("font-family", "Liberation Sans, Arial, sans-serif").attr("font-size", 42)
  .attr("textLength", 132).attr("lengthAdjust", "spacingAndGlyphs").attr("fill", "#111").text(axisTitle);

// legend texts
svg.append("text").attr("x", 448).attr("y", 84)
  .attr("font-family", "Liberation Sans, Arial, sans-serif").attr("font-size", 39)
  .attr("textLength", 436).attr("lengthAdjust", "spacingAndGlyphs")
  .attr("fill", "#3636e0").text(seriesNames[0]);
svg.append("text").attr("x", 450).attr("y", 166)
  .attr("font-family", "Liberation Sans, Arial, sans-serif").attr("font-size", 39)
  .attr("textLength", 477).attr("lengthAdjust", "spacingAndGlyphs")
  .attr("fill", "#111").text(seriesNames[1]);

// red annotations
svg.append("ellipse").attr("cx", 349).attr("cy", 549).attr("rx", 61).attr("ry", 196)
  .attr("fill", "none").attr("stroke", RED).attr("stroke-width", 10);
svg.append("ellipse").attr("cx", 1162).attr("cy", 252).attr("rx", 85).attr("ry", 220)
  .attr("fill", "none").attr("stroke", RED).attr("stroke-width", 10);
svg.append("rect").attr("x", 366).attr("y", -5).attr("width", 10).attr("height", 236).attr("fill", RED);
svg.append("polygon").attr("points", "352,228 388,228 370,281").attr("fill", RED);
svg.append("rect").attr("x", 1158).attr("y", -5).attr("width", 10).attr("height", 40).attr("fill", RED);
svg.append("polygon").attr("points", "1142,32 1179,32 1161,86").attr("fill", RED);

// big bold labels
const bigPos = [[104, 237], [102, 455], [101, 690]];
bigLabels.forEach((t, i) => {
  svg.append("text").attr("x", bigPos[i][0]).attr("y", bigPos[i][1]).attr("text-anchor", "end")
    .attr("font-family", "Liberation Sans, Arial, sans-serif").attr("font-weight", "bold")
    .attr("font-size", 57).attr("fill", "#000").text(t);
});
</script>
</body></html>
